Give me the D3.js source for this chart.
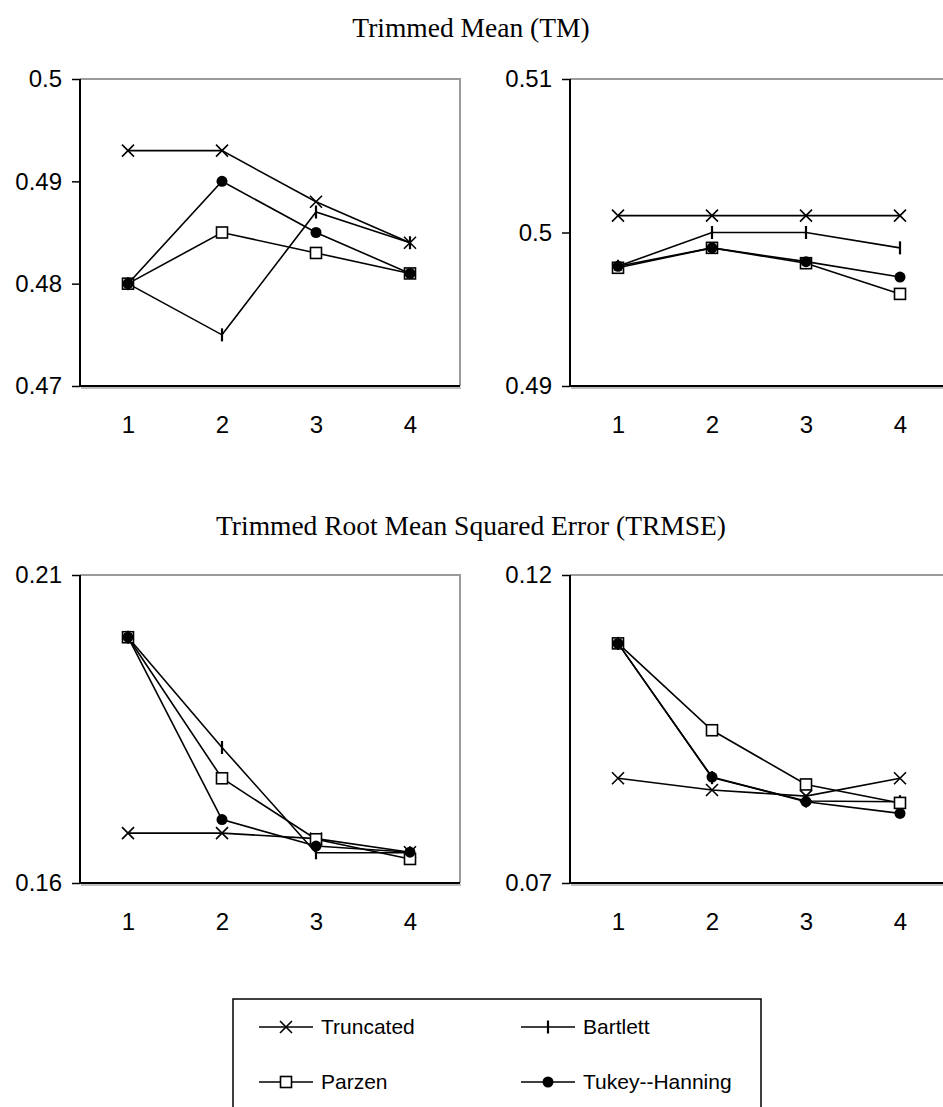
<!DOCTYPE html>
<html>
<head>
<meta charset="utf-8">
<title>Trimmed Mean / TRMSE</title>
<script src="https://cdn.jsdelivr.net/npm/d3@7"></script>
<style>
body { margin: 0; background: #fff; }
svg { display: block; }
.tick text, .leg text { font-family: "Liberation Sans", Arial, sans-serif; fill: #000; }
.title { font-family: "Liberation Serif", "Times New Roman", serif; fill: #000; }
</style>
</head>
<body>
<script>

// categories (x axis)
var lags = [1, 2, 3, 4];
var seriesNames = ["Truncated", "Bartlett", "Parzen", "Tukey--Hanning"];

// Trimmed Mean, left panel
var tmA_truncated = [0.493, 0.493, 0.488, 0.484];
var tmA_bartlett  = [0.480, 0.475, 0.487, 0.484];
var tmA_parzen    = [0.480, 0.485, 0.483, 0.481];
var tmA_tukey     = [0.480, 0.490, 0.485, 0.481];
var tmA_ticks = [0.47, 0.48, 0.49, 0.5];

// Trimmed Mean, right panel
var tmB_truncated = [0.5011, 0.5011, 0.5011, 0.5011];
var tmB_bartlett  = [0.4978, 0.5000, 0.5000, 0.4990];
var tmB_parzen    = [0.4977, 0.4990, 0.4980, 0.4960];
var tmB_tukey     = [0.4978, 0.4990, 0.4981, 0.4971];
var tmB_ticks = [0.49, 0.5, 0.51];

// TRMSE, left panel
var trA_truncated = [0.1681, 0.1681, 0.1672, 0.1650];
var trA_bartlett  = [0.1999, 0.1820, 0.1649, 0.1649];
var trA_parzen    = [0.1999, 0.1770, 0.1671, 0.1639];
var trA_tukey     = [0.1999, 0.1703, 0.1660, 0.1650];
var trA_ticks = [0.16, 0.21];

// TRMSE, right panel
var trB_truncated = [0.0870, 0.0851, 0.0841, 0.0870];
var trB_bartlett  = [0.1089, 0.0871, 0.0833, 0.0832];
var trB_parzen    = [0.1089, 0.0948, 0.0860, 0.0830];
var trB_tukey     = [0.1089, 0.0872, 0.0832, 0.0813];
var trB_ticks = [0.07, 0.12];

var W = 943, H = 1107;
var svg = d3.select("body").append("svg")
  .attr("width", W).attr("height", H);

// titles
svg.append("text").attr("class", "title")
  .attr("x", 471).attr("y", 37)
  .attr("text-anchor", "middle").style("font-size", "27.5px")
  .text("Trimmed Mean (TM)");
svg.append("text").attr("class", "title")
  .attr("x", 471).attr("y", 535)
  .attr("text-anchor", "middle").style("font-size", "27.5px")
  .text("Trimmed Root Mean Squared Error (TRMSE)");

// marker shapes
function drawMarker(g, kind) {
  if (kind == 0) {
    g.append("path").attr("d", "M-6,-6L6,6M-6,6L6,-6")
      .attr("stroke", "#000").attr("stroke-width", 1.6).attr("fill", "none");
  } else if (kind == 1) {
    g.append("path").attr("d", "M0,-6.5V6.5")
      .attr("stroke", "#000").attr("stroke-width", 2.2);
  } else if (kind == 2) {
    g.append("rect").attr("x", -5.5).attr("y", -5.5).attr("width", 11).attr("height", 11)
      .attr("fill", "#fff").attr("stroke", "#000").attr("stroke-width", 1.6);
  } else {
    g.append("circle").attr("r", 5.5).attr("fill", "#000");
  }
}

var panels = [
  {left: 80,  top: 79,  bottom: 386, domain: [0.47, 0.5],  ticks: tmA_ticks, series: [tmA_truncated, tmA_bartlett, tmA_parzen, tmA_tukey]},
  {left: 570, top: 79,  bottom: 386, domain: [0.49, 0.51], ticks: tmB_ticks, series: [tmB_truncated, tmB_bartlett, tmB_parzen, tmB_tukey]},
  {left: 80,  top: 575, bottom: 883, domain: [0.16, 0.21], ticks: trA_ticks, series: [trA_truncated, trA_bartlett, trA_parzen, trA_tukey]},
  {left: 570, top: 575, bottom: 883, domain: [0.07, 0.12], ticks: trB_ticks, series: [trB_truncated, trB_bartlett, trB_parzen, trB_tukey]}
];

var plotW = 380;

panels.forEach(function(p) {
  var x = d3.scalePoint().domain(lags).range([p.left + 1, p.left + 377]).padding(0.5);
  var y = d3.scaleLinear().domain(p.domain).range([p.bottom, p.top]);
  var g = svg.append("g");

  // gray top / right frame
  g.append("path")
    .attr("d", "M" + p.left + "," + p.top + "H" + (p.left + plotW) + "V" + p.bottom)
    .attr("fill", "none").attr("stroke", "#9a9a9a").attr("stroke-width", 2);

  // y axis
  var ya = g.append("g").attr("transform", "translate(" + p.left + ",0)")
    .call(d3.axisLeft(y).tickValues(p.ticks).tickSize(8).tickPadding(10)
      .tickFormat(function(d) { return String(+d.toFixed(2)); }));
  ya.select(".domain").remove();
  ya.selectAll(".tick line").attr("stroke", "#000").attr("stroke-width", 1.5);
  ya.selectAll("text").style("font-size", "24px");

  // x axis labels
  var xa = g.append("g").attr("transform", "translate(0," + p.bottom + ")")
    .call(d3.axisBottom(x).tickSize(0).tickPadding(30));
  xa.select(".domain").remove();
  xa.selectAll("text").style("font-size", "24px");

  // bottom shadow and black axis lines
  g.append("line").attr("x1", p.left + 1).attr("x2", p.left + plotW + 1)
    .attr("y1", p.bottom + 2).attr("y2", p.bottom + 2)
    .attr("stroke", "#a8a8a8").attr("stroke-width", 1.5);
  g.append("line").attr("x1", p.left).attr("x2", p.left + plotW)
    .attr("y1", p.bottom).attr("y2", p.bottom)
    .attr("stroke", "#000").attr("stroke-width", 2);
  g.append("line").attr("x1", p.left).attr("x2", p.left)
    .attr("y1", p.top).attr("y2", p.bottom + 1)
    .attr("stroke", "#000").attr("stroke-width", 2);

  var line = d3.line()
    .x(function(d, i) { return x(lags[i]); })
    .y(function(d) { return y(d); });

  p.series.forEach(function(vals, k) {
    g.append("path").datum(vals)
      .attr("d", line)
      .attr("fill", "none").attr("stroke", "#000").attr("stroke-width", 1.6);
    vals.forEach(function(v, i) {
      var m = g.append("g").attr("transform", "translate(" + x(lags[i]) + "," + y(v) + ")");
      drawMarker(m, k);
    });
  });
});

// legend
var leg = svg.append("g").attr("class", "leg");
leg.append("rect")
  .attr("x", 233).attr("y", 999).attr("width", 528).attr("height", 140)
  .attr("fill", "#fff").attr("stroke", "#000").attr("stroke-width", 1.5);

var legPos = [[259, 1027], [521, 1027], [259, 1082], [521, 1082]];
seriesNames.forEach(function(name, k) {
  var lx = legPos[k][0], ly = legPos[k][1];
  leg.append("line").attr("x1", lx).attr("x2", lx + 54)
    .attr("y1", ly).attr("y2", ly)
    .attr("stroke", "#000").attr("stroke-width", 1.6);
  var m = leg.append("g").attr("transform", "translate(" + (lx + 27) + "," + ly + ")");
  drawMarker(m, k);
  leg.append("text").attr("x", lx + 62).attr("y", ly)
    .attr("dy", "0.35em").style("font-size", "21px")
    .text(name);
});

</script>
</body>
</html>
